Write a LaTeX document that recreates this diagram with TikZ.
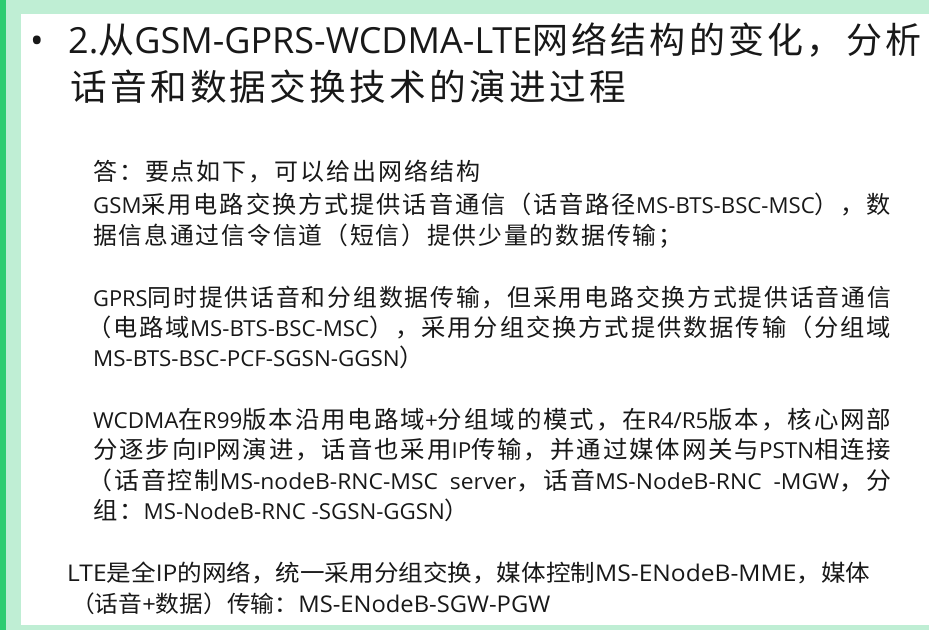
\documentclass[tikz,border=0pt]{standalone}
\usepackage{fontspec}
\usepackage{graphicx}
\setmainfont{Open Sans}
\newfontfamily\cjkbody[LetterSpace=8]{Noto Sans CJK SC}
\newfontfamily\cjktitle[LetterSpace=9]{Noto Sans CJK SC}
\newfontfamily\cjknarrow{Noto Sans CJK SC}
\newcommand\cjkbodyfont{\cjkbody\fontsize{24}{28}\selectfont}
\let\cjkfont\cjkbodyfont
% switch to the CJK font at every change between Latin and Han text
\XeTeXinterchartokenstate=1
\newXeTeXintercharclass\hanclass
\newcount\hanchar
\newcommand\sethanrange[2]{\hanchar=#1\relax
  \loop\XeTeXcharclass\hanchar=\hanclass
  \ifnum\hanchar<#2\relax\advance\hanchar by 1 \repeat}
\sethanrange{"3000}{"303F}
\sethanrange{"4E00}{"9FFF}
\sethanrange{"FF00}{"FFEF}
\XeTeXinterchartoks 0 \hanclass = {\begingroup\cjkfont}
\XeTeXinterchartoks 4095 \hanclass = {\begingroup\cjkfont}
\XeTeXinterchartoks \hanclass 0 = {\endgroup}
\XeTeXinterchartoks \hanclass 4095 = {\endgroup}
\definecolor{bargreen}{RGB}{46,204,113}
\definecolor{panegreen}{RGB}{191,238,212}
\definecolor{ink}{RGB}{24,24,24}
\begin{document}
\begin{tikzpicture}[x=1pt,y=-1pt,
  titleline/.style={anchor=base west,inner sep=0pt,text=ink,
    font=\fontsize{36}{40}\selectfont\let\cjkfont\cjktitle},
  bodyline/.style={anchor=base west,inner sep=0pt,text=ink,
    font=\fontsize{22}{26}\selectfont},
  lteline/.style={anchor=base west,inner sep=0pt,text=ink,
    font=\fontsize{23}{27}\selectfont\let\cjkfont\cjknarrow}]
\useasboundingbox (0,0) rectangle (948,630);
% slide frame
\fill[white] (0,0) rectangle (948,630);
\fill[panegreen] (6,0) rectangle (929,630);
\fill[white] (21,14) rectangle (948,625);
\fill[bargreen] (0,0) rectangle (6,630);
% title
\node[titleline] (dot) at (30,53) {•};
\node[titleline] (title1) at (68,53)
  {\resizebox{853pt}{\height}{2.从GSM-GPRS-WCDMA-LTE网络结构的变化，分析}};
\node[titleline] (title2) at (70,100)
  {\resizebox{556pt}{\height}{话音和数据交换技术的演进过程}};
% answer
\node[bodyline] (ans) at (93,180) {\resizebox{387pt}{\height}{答：要点如下，可以给出网络结构}};
\node[bodyline] (gsm1) at (93,213)
  {\resizebox{798pt}{\height}{GSM采用电路交换方式提供话音通信（话音路径MS-BTS-BSC-MSC），数}};
\node[bodyline] (gsm2) at (93,244)
  {\resizebox{589pt}{\height}{据信息通过信令信道（短信）提供少量的数据传输；}};
\node[bodyline] (gprs1) at (93,306)
  {\resizebox{798pt}{\height}{GPRS同时提供话音和分组数据传输，但采用电路交换方式提供话音通信}};
\node[bodyline] (gprs2) at (87,336)
  {\resizebox{804pt}{\height}{（电路域MS-BTS-BSC-MSC），采用分组交换方式提供数据传输（分组域}};
\node[bodyline] (gprs3) at (93,366)
  {\resizebox{331pt}{\height}{MS-BTS-BSC-PCF-SGSN-GGSN）}};
\node[bodyline] (wcdma1) at (93,428)
  {\resizebox{798pt}{\height}{WCDMA在R99版本沿用电路域+分组域的模式，在R4/R5版本，核心网部}};
\node[bodyline] (wcdma2) at (93,458)
  {\resizebox{798pt}{\height}{分逐步向IP网演进，话音也采用IP传输，并通过媒体网关与PSTN相连接}};
\node[bodyline] (wcdma3) at (87,489)
  {\resizebox{804pt}{\height}{（话音控制MS-nodeB-RNC-MSC\ \ server，话音MS-NodeB-RNC\ \ -MGW，分}};
\node[bodyline] (wcdma4) at (93,519)
  {\resizebox{376pt}{\height}{组：MS-NodeB-RNC -SGSN-GGSN）}};
% LTE
\node[lteline] (lte1) at (67,581)
  {\resizebox{803pt}{\height}{LTE是全IP的网络，统一采用分组交换，媒体控制MS-ENodeB-MME，媒体}};
\node[lteline] (lte2) at (71,612)
  {\resizebox{479pt}{\height}{（话音+数据）传输：MS-ENodeB-SGW-PGW}};
\end{tikzpicture}
\end{document}
